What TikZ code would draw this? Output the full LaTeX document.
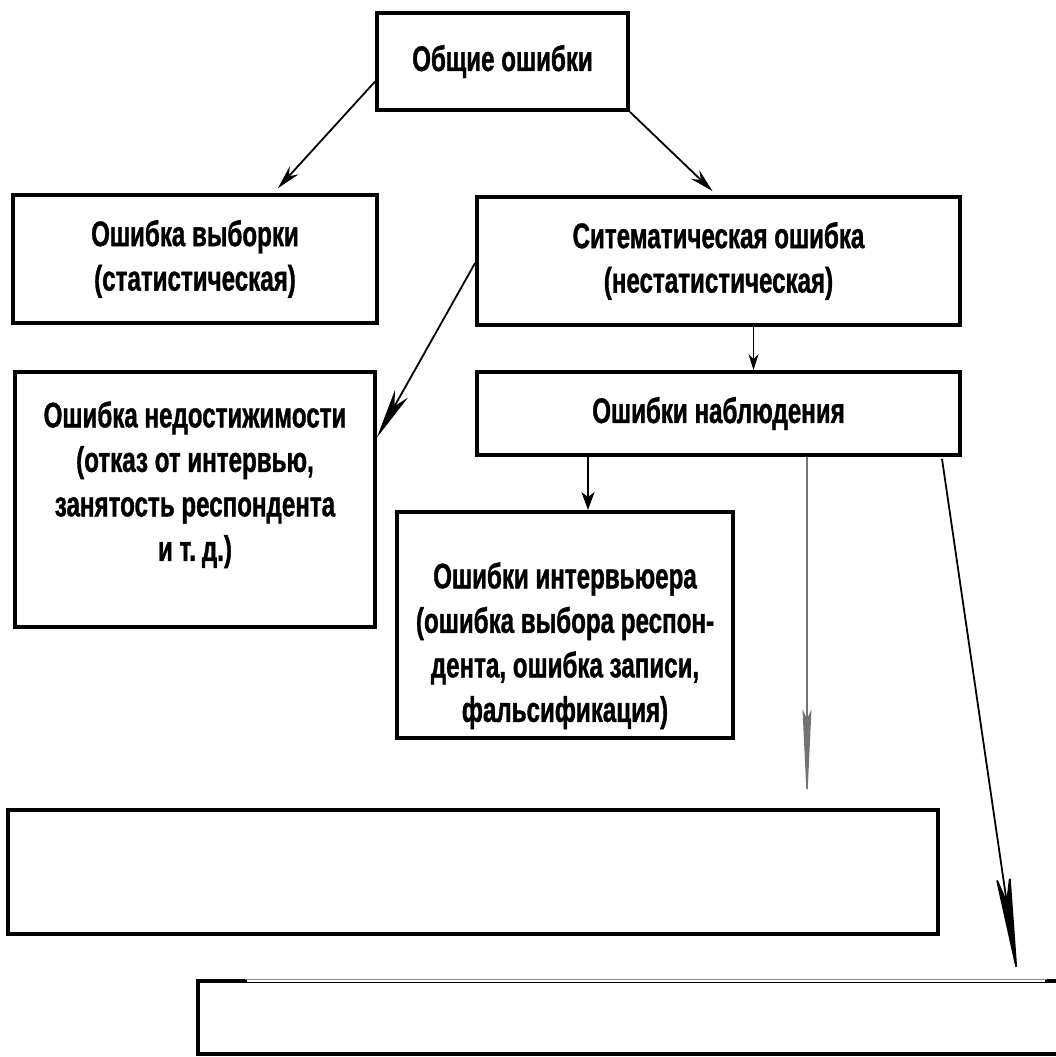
\documentclass[tikz,border=0pt]{standalone}
\usepackage{fontspec}
\setmainfont{Liberation Sans}[FakeStretch=0.68, BoldFeatures={FakeBold=1}]
\usetikzlibrary{arrows.meta,calc}
\begin{document}
\begin{tikzpicture}[x=1pt,y=-1pt,
  box/.style={draw, line width=3.8pt, rectangle, inner sep=0pt},
  txt/.style={align=center, inner sep=0pt, font=\bfseries\fontsize{35.5}{44.5}\selectfont},
  arr/.style={line width=1.8pt, -{Stealth[length=24pt,width=12pt,inset=8pt]}},
]
\useasboundingbox (0,0) rectangle (1056,1057);

% boxes
\node[box, txt, minimum width=251pt, minimum height=97pt] (gen) at (502.5,61.5) {Общие ошибки};
\node[box, txt, minimum width=364pt, minimum height=128pt] (samp) at (195,259) {Ошибка выборки\\(статистическая)};
\node[box, txt, minimum width=483pt, minimum height=128pt] (sys) at (718.5,261) {Ситематическая ошибка\\(нестатистическая)};
\node[box, txt, minimum width=483pt, minimum height=83pt] (obs) at (718.5,413.5) {Ошибки наблюдения};
\node[box, minimum width=360pt, minimum height=255pt] (unr) at (195,499.5) {};
\node[txt, anchor=north] (unrtxt) at ($(unr.north)+(0,31)$) {Ошибка недостижимости\\(отказ от интервью,\\занятость респондента\\и т.\,д.)};
\node[box, minimum width=336pt, minimum height=226pt] (intv) at (565,625) {};
\node[txt, anchor=north] (intvtxt) at ($(intv.north)+(0,52)$) {Ошибки интервьюера\\(ошибка выбора респон-\\дента, ошибка записи,\\фальсификация)};
\node[box, minimum width=930pt, minimum height=124pt] (low1) at (473,872) {};
\node[box, minimum width=872pt, minimum height=73pt] (low2) at (634,1017.5) {};
% the top edge of the lowest box is only a hairline between its corners
\draw[white, line width=5pt] ($(low2.north west)+(51,0)$) -- ($(low2.north east)+(-27,0)$);
\draw[black!45, line width=0.8pt] ($(low2.north west)+(49,0)$) -- ($(low2.north east)+(-25,0)$);

% connectors
\draw[arr] ($(gen.west)+(0,20)$) -- ($(samp.north)+(83,-5)$);
\draw[arr] (gen.south east) -- ($(sys.north)+(-6,-4)$);
\draw[arr, -{Stealth[length=50pt,width=15pt,inset=14pt]}] ($(sys.west)+(0,2)$) -- ($(unr.east)+(0,-62)$);
\draw[line width=1.4pt, -{Stealth[length=16pt,width=10pt,inset=5pt]}] ($(sys.south)+(35,0)$) -- ($(obs.north)+(35,0)$);
\draw[line width=1.8pt, -{Stealth[length=18pt,width=13pt,inset=5pt]}] ($(obs.south)+(-130.5,0)$) -- ($(intv.north)+(23,0)$);
\draw[black!55, line width=1.4pt, -{Stealth[length=95pt,width=9pt,inset=10pt]}] ($(obs.south)+(88.5,0)$) -- ($(low1.north)+(334,-4)$);
\draw[line width=1.8pt, -{Stealth[length=110pt,width=16pt,inset=30pt]}] ($(obs.south)+(223.5,2)$) -- ($(low2.north)+(384,0)$);
\end{tikzpicture}
\end{document}
